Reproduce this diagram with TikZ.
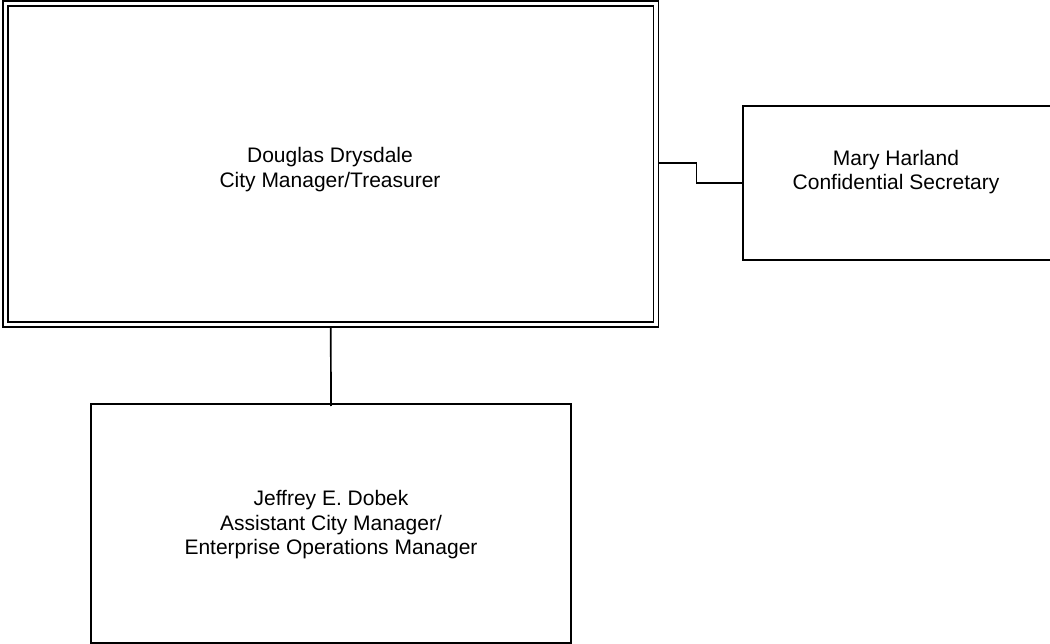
\documentclass[tikz,border=0pt]{standalone}
\usepackage{fontspec}
\setmainfont{Liberation Sans}
\usetikzlibrary{calc}
\tikzset{
  box/.style={draw=black, line width=1.7pt, rectangle, inner sep=0pt},
  doublebox/.style={draw=black, line width=1.8pt, double=white, double distance=3.2pt, rectangle, inner sep=0pt},
  conn/.style={draw=black, line width=1.7pt},
  lbl/.style={align=center, font=\fontsize{21}{24.5}\selectfont, inner sep=0pt}
}
\begin{document}
\begin{tikzpicture}[x=1pt,y=-1pt]
\useasboundingbox (0,0) rectangle (1050,644);
\begin{scope}
\clip (0,0) rectangle (1050,644);
% City manager box with its double border
\node[doublebox, minimum width=650.5pt, minimum height=321pt] (dd) at (330.75,164) {};
\node[lbl] (ddt) at (330,169.5) {Douglas Drysdale\\City Manager/Treasurer};
% Secretary box, running off the right edge
\node[box, minimum width=330pt, minimum height=154pt] (mary) at (908,183) {};
\node[lbl] (maryt) at (896,172) {Mary Harland\\Confidential Secretary};
% Assistant city manager box
\node[box, line width=2pt, minimum width=480pt, minimum height=239pt] (jd) at (331,523.5) {};
\node[lbl] (jdt) at (331,525) {Jeffrey E. Dobek\\Assistant City Manager/\\Enterprise Operations Manager};
% Connectors
\draw[conn] ([xshift=2.5pt,yshift=1pt]dd.east) -- ++(37,0) |- (mary.west);
\draw[conn, shorten >=-3pt] ([yshift=-2.5pt]dd.south) -- (jd.north);
\end{scope}
\end{tikzpicture}
\end{document}
